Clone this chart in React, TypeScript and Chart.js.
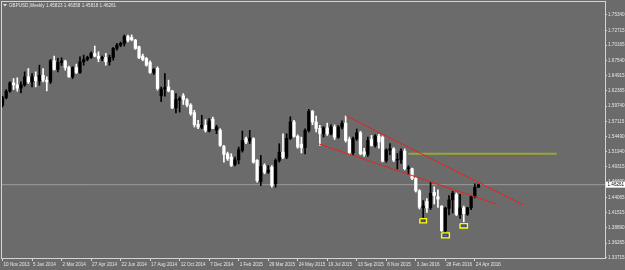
import React, { useEffect, useRef } from 'react';
import { Chart, registerables } from 'chart.js';
Chart.register(...registerables);

const symbolTitle = 'GBPUSD,Weekly 1.45823 1.46358 1.45818 1.46261';
const dateLabels = ['10 Nov 2013', '5 Jan 2014', '2 Mar 2014', '27 Apr 2014', '22 Jun 2014', '17 Aug 2014', '12 Oct 2014', '7 Dec 2014', '1 Feb 2015', '29 Mar 2015', '24 May 2015', '19 Jul 2015', '13 Sep 2015', '8 Nov 2015', '3 Jan 2016', '28 Feb 2016', '24 Apr 2016'];
const dateLabelBars = [0, 8, 16, 24, 32, 40, 48, 56, 64, 72, 80, 88, 96, 104, 112, 120, 128];
const priceTicks = [1.7534, 1.72715, 1.70165, 1.6754, 1.64915, 1.62365, 1.5974, 1.57115, 1.5449, 1.5194, 1.49315, 1.4669, 1.44065, 1.41515, 1.3889, 1.36265, 1.33715];

const opens = [1.5990,1.6115,1.6228,1.6372,1.6335,1.6280,1.6335,1.6474,1.6388,1.6474,1.6405,1.6500,1.6417,1.6388,1.6749,1.6600,1.6720,1.6745,1.6634,1.6474,1.6634,1.6548,1.6732,1.6772,1.6806,1.6875,1.6829,1.6789,1.6806,1.6732,1.6806,1.6961,1.7018,1.7047,1.7165,1.7150,1.7104,1.6990,1.6830,1.6789,1.6720,1.6548,1.6620,1.6150,1.6265,1.6300,1.6233,1.5941,1.6075,1.6150,1.6080,1.5990,1.5860,1.5660,1.5610,1.5643,1.5545,1.5750,1.5560,1.5560,1.5282,1.5156,1.5100,1.4972,1.5052,1.5213,1.5414,1.5373,1.5414,1.5041,1.4680,1.4955,1.4840,1.4926,1.4640,1.5041,1.5184,1.5098,1.5420,1.5700,1.5454,1.5320,1.5260,1.5556,1.5883,1.5700,1.5590,1.5500,1.5600,1.5499,1.5614,1.5440,1.5614,1.5680,1.5400,1.5172,1.5413,1.5516,1.5190,1.5145,1.5400,1.5298,1.5459,1.5440,1.5040,1.5220,1.5240,1.5045,1.5060,1.5200,1.4900,1.4900,1.4735,1.4520,1.4230,1.4340,1.4230,1.4496,1.4420,1.4255,1.3840,1.4220,1.4365,1.4455,1.4115,1.4230,1.4120,1.4230,1.4420,1.45823];
const highs = [1.6142,1.6256,1.6390,1.6445,1.6457,1.6388,1.6560,1.6617,1.6531,1.6560,1.6674,1.6617,1.6474,1.6772,1.6829,1.6789,1.6800,1.6760,1.6657,1.6646,1.6692,1.6818,1.6846,1.6829,1.6904,1.7001,1.6904,1.6829,1.6875,1.6846,1.6978,1.7047,1.7070,1.7190,1.7190,1.7192,1.7116,1.7001,1.6864,1.6806,1.6749,1.6617,1.6646,1.6300,1.6530,1.6417,1.6244,1.6187,1.6130,1.6187,1.6101,1.6015,1.5900,1.5729,1.5815,1.5740,1.5757,1.5786,1.5643,1.5585,1.5299,1.5184,1.5156,1.5098,1.5270,1.5545,1.5442,1.5557,1.5431,1.5058,1.5127,1.4984,1.4955,1.4955,1.5070,1.5328,1.5499,1.5499,1.5790,1.5729,1.5480,1.5440,1.5585,1.5917,1.5900,1.5803,1.5642,1.5620,1.5680,1.5650,1.5650,1.5640,1.5720,1.5803,1.5442,1.5442,1.5580,1.5540,1.5250,1.5442,1.5470,1.5482,1.5490,1.5460,1.5240,1.5330,1.5260,1.5160,1.5240,1.5240,1.4950,1.4910,1.4750,1.4540,1.4353,1.4390,1.4665,1.4590,1.4536,1.4270,1.4240,1.4440,1.4512,1.4484,1.4460,1.4260,1.4240,1.4440,1.4640,1.46358];
const lows = [1.5960,1.6096,1.6210,1.6256,1.6228,1.6199,1.6313,1.6359,1.6302,1.6302,1.6331,1.6388,1.6233,1.6359,1.6589,1.6560,1.6670,1.6589,1.6462,1.6445,1.6531,1.6531,1.6674,1.6749,1.6789,1.6818,1.6732,1.6749,1.6674,1.6674,1.6760,1.6932,1.6990,1.7001,1.7070,1.7090,1.6944,1.6783,1.6749,1.6657,1.6531,1.6514,1.6245,1.6050,1.6142,1.6216,1.5929,1.5855,1.5870,1.6000,1.5958,1.5815,1.5614,1.5585,1.5585,1.5528,1.5528,1.5585,1.5500,1.5282,1.5012,1.5041,1.4938,1.4949,1.4984,1.5184,1.5328,1.5328,1.4995,1.4669,1.4611,1.4812,1.4820,1.4583,1.4583,1.5012,1.5070,1.5070,1.5400,1.5440,1.5250,1.5170,1.5155,1.5528,1.5654,1.5530,1.5298,1.5442,1.5470,1.5480,1.5400,1.5420,1.5580,1.5356,1.5155,1.5130,1.5385,1.5138,1.5110,1.5110,1.5287,1.5270,1.5253,1.5015,1.5010,1.5140,1.5020,1.4895,1.4990,1.4880,1.4805,1.4710,1.4500,1.4210,1.4066,1.4150,1.4200,1.4295,1.4238,1.3825,1.3805,1.4110,1.4142,1.4096,1.4050,1.3990,1.4100,1.4200,1.4400,1.45818];
const closes = [1.6115,1.6228,1.6372,1.6335,1.6280,1.6335,1.6474,1.6388,1.6474,1.6405,1.6500,1.6417,1.6388,1.6749,1.6600,1.6720,1.6745,1.6634,1.6474,1.6634,1.6548,1.6732,1.6772,1.6806,1.6875,1.6829,1.6789,1.6806,1.6732,1.6806,1.6961,1.7018,1.7047,1.7165,1.7100,1.7110,1.6961,1.6800,1.6772,1.6674,1.6548,1.6600,1.6273,1.6265,1.6290,1.6233,1.5941,1.6084,1.6100,1.6085,1.5990,1.5843,1.5654,1.5614,1.5643,1.5557,1.5717,1.5590,1.5614,1.5299,1.5144,1.5070,1.4955,1.5052,1.5224,1.5385,1.5356,1.5425,1.5012,1.4697,1.4938,1.4840,1.4875,1.4611,1.5041,1.5184,1.5098,1.5420,1.5700,1.5454,1.5270,1.5260,1.5556,1.5883,1.5700,1.5590,1.5500,1.5600,1.5499,1.5614,1.5440,1.5614,1.5680,1.5385,1.5172,1.5413,1.5516,1.5155,1.5145,1.5385,1.5298,1.5459,1.5360,1.5030,1.5220,1.5240,1.5045,1.5060,1.5200,1.4900,1.4910,1.4735,1.4520,1.4240,1.4260,1.4230,1.4480,1.4440,1.4380,1.3840,1.4227,1.4365,1.4480,1.4115,1.4230,1.4130,1.4230,1.4420,1.4582,1.46261];

const lastPrice = 1.46261;
const upperTrend = [{ x: 93.09, y: 1.5806 }, { x: 140.98, y: 1.4284 }];
const lowerTrend = [{ x: 85.85, y: 1.5322 }, { x: 133.93, y: 1.4292 }];
const greenLevel = [{ x: 109.97, y: 1.5156 }, { x: 150.19, y: 1.5156 }];
const brownLevel = [{ x: 120.19, y: 1.5122 }, { x: 146.12, y: 1.5122 }];
const boxes = [
  { x1: 113.1, x2: 114.9, y1: 1.4044, y2: 1.3971 },
  { x1: 119.0, x2: 121.1, y1: 1.3800, y2: 1.3714 },
  { x1: 124.0, x2: 126.0, y1: 1.3959, y2: 1.3885 },
];
const xMin = -0.14;
const xMax = 163.28;
const yMin = 1.337;
const yMax = 1.7756;

const FONT = "'Liberation Sans', Arial, sans-serif";
const BG = '#6b6b6b';
const FG = '#e6e6e6';

function rectData(x1: number, x2: number, y1: number, y2: number) {
  return [
    { x: x1, y: y1 }, { x: x2, y: y1 }, { x: x2, y: y2 }, { x: x1, y: y2 }, { x: x1, y: y1 },
  ];
}

export default function App() {
  const ref = useRef<HTMLCanvasElement>(null);
  useEffect(() => {
    if (!ref.current) return;
    const idx = opens.map((_, i) => i);
    const isBull = (i: number) => closes[i] >= opens[i];
    const colors = idx.map((i) => (isBull(i) ? '#000000' : '#ffffff'));
    const boxDatasets: any[] = [];
    boxes.forEach((b) => {
      boxDatasets.push({
        type: 'line',
        data: rectData(b.x1, b.x2, b.y1, b.y2),
        borderColor: '#ffff00',
        borderWidth: 1.4,
        pointRadius: 0,
        fill: false,
        tension: 0,
        order: 0,
      });
      const dx = (b.x2 - b.x1) * 0.18;
      const dy = (b.y1 - b.y2) * 0.28;
      boxDatasets.push({
        type: 'line',
        data: rectData(b.x1 + dx, b.x2 - dx, b.y1 - dy, b.y2 + dy),
        borderColor: '#2a3a9a',
        borderWidth: 0.8,
        pointRadius: 0,
        fill: false,
        tension: 0,
        order: 0,
      });
    });
    const overlay = {
      id: 'mtOverlay',
      afterDraw(chart: any) {
        const { ctx, chartArea } = chart;
        const { left, top, right, bottom } = chartArea;
        ctx.save();
        ctx.strokeStyle = '#d4d4d4';
        ctx.lineWidth = 1;
        ctx.strokeRect(left - 0.5, top - 0.5, right - left + 1, bottom - top + 1);
        ctx.fillStyle = FG;
        ctx.beginPath();
        ctx.moveTo(3, 4);
        ctx.lineTo(7, 4);
        ctx.lineTo(5, 6.5);
        ctx.closePath();
        ctx.fill();
        ctx.font = `4.6px ${FONT}`;
        ctx.textBaseline = 'middle';
        ctx.textAlign = 'left';
        ctx.fillText(symbolTitle, 9, 5.5);
        const yScale = chart.scales.y;
        const py = yScale.getPixelForValue(lastPrice);
        ctx.fillStyle = '#ffffff';
        ctx.fillRect(right + 1, py - 3, 624 - right, 6);
        ctx.fillStyle = '#000000';
        ctx.fillText(lastPrice.toFixed(5), right + 2.5, py + 0.3);
        ctx.restore();
      },
    };
    const chart = new Chart(ref.current, {
      type: 'bar',
      data: {
        datasets: [
          {
            type: 'line',
            data: [{ x: xMin, y: lastPrice }, { x: xMax, y: lastPrice }],
            borderColor: '#9a9a9a',
            borderWidth: 1,
            pointRadius: 0,
            order: 5,
          } as any,
          {
            type: 'bar',
            data: idx.map((i) => ({ x: i, y: [lows[i], highs[i]] })),
            backgroundColor: colors,
            borderWidth: 0,
            barThickness: 1,
            grouped: false,
            order: 3,
          } as any,
          {
            type: 'bar',
            data: idx.map((i) => ({ x: i, y: [opens[i], closes[i]] })),
            backgroundColor: colors,
            borderWidth: 0,
            barThickness: 2.6,
            minBarLength: 1,
            grouped: false,
            order: 2,
          } as any,
          { type: 'line', data: upperTrend, borderColor: '#e8231e', borderWidth: 1, pointRadius: 0, order: 0 } as any,
          { type: 'line', data: lowerTrend, borderColor: '#e8231e', borderWidth: 1, pointRadius: 0, order: 0 } as any,
          { type: 'line', data: greenLevel, borderColor: '#93a83c', borderWidth: 2, pointRadius: 0, order: 0 } as any,
          { type: 'line', data: brownLevel, borderColor: '#a8502c', borderWidth: 1, pointRadius: 0, order: 0 } as any,
          ...boxDatasets,
        ],
      },
      options: {
        animation: false,
        responsive: true,
        maintainAspectRatio: false,
        layout: { padding: { left: 2, top: 2, right: 0, bottom: 0 } },
        plugins: { legend: { display: false }, tooltip: { enabled: false }, title: { display: false } },
        scales: {
          x: {
            type: 'linear',
            min: xMin,
            max: xMax,
            offset: false,
            position: 'bottom',
            grid: { drawOnChartArea: false, drawTicks: true, tickLength: 3, offset: false, color: '#d4d4d4', tickColor: '#d4d4d4' },
            border: { display: false },
            afterBuildTicks: (scale: any) => {
              scale.ticks = dateLabelBars.map((v) => ({ value: v }));
            },
            afterFit: (scale: any) => {
              scale.height = 12;
              scale.paddingLeft = 0;
              scale.paddingRight = 0;
            },
            ticks: {
              autoSkip: false,
              maxRotation: 0,
              minRotation: 0,
              align: 'start',
              labelOffset: 1,
              padding: 1,
              color: FG,
              font: { size: 4.6, family: FONT },
              callback: (_v: any, i: number) => dateLabels[i],
            },
          },
          y: {
            type: 'linear',
            position: 'right',
            min: yMin,
            max: yMax,
            grid: { drawOnChartArea: false, drawTicks: true, tickLength: 2, color: '#d4d4d4', tickColor: '#d4d4d4' },
            border: { display: false },
            afterBuildTicks: (scale: any) => {
              scale.ticks = priceTicks.map((v) => ({ value: v }));
            },
            afterFit: (scale: any) => {
              scale.width = 20;
              scale.paddingTop = 0;
              scale.paddingBottom = 0;
            },
            ticks: {
              autoSkip: false,
              padding: 1,
              color: FG,
              font: { size: 4.6, family: FONT },
              callback: (v: any) => Number(v).toFixed(5),
            },
          },
        },
      } as any,
      plugins: [overlay],
    });
    return () => chart.destroy();
  }, []);
  return (
    <div style={{ position: 'fixed', left: 0, top: 0, width: 625, height: 270, background: BG }}>
      <canvas ref={ref} />
    </div>
  );
}
